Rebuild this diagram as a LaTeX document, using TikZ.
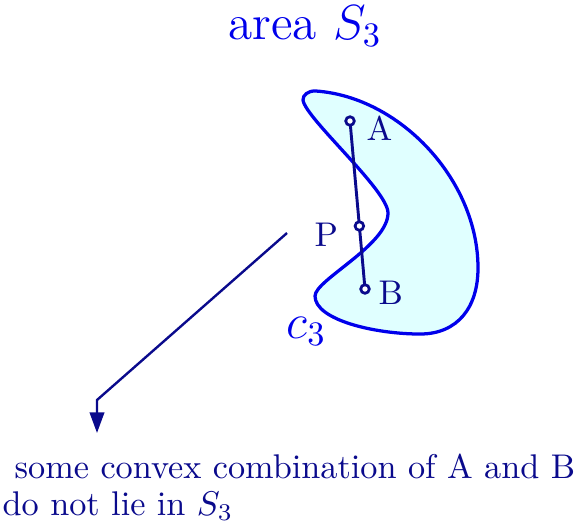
\documentclass[tikz,border=0pt]{standalone}
\usetikzlibrary{arrows.meta,calc}
\definecolor{navy}{RGB}{10,10,140}
\definecolor{regionfill}{RGB}{224,255,255}
\definecolor{outline}{RGB}{0,0,235}
\begin{document}
\begin{tikzpicture}[x=0.01025cm,y=-0.01025cm,
  pt/.style={circle,draw=navy,fill=white,line width=0.8pt,inner sep=0pt,minimum size=2.5pt},
  lbl/.style={text=navy,anchor=base west,inner sep=0pt},
  conn/.style={navy,line width=0.7pt}]
\useasboundingbox (0,0) rectangle (580,526);
\node[text=outline,anchor=base,inner sep=0pt,font=\Large] (title) at (305,39) {area $S_3$};
\draw[outline,fill=regionfill,line width=0.95pt]
  (316,91) .. controls (400,97) and (478,180) .. (478,268)
  .. controls (478,307) and (458,334) .. (420,334)
  .. controls (375,334) and (315,320) .. (315,296)
  .. controls (315,280) and (388,245) .. (388,213)
  .. controls (388,190) and (305,118) .. (303,100)
  .. controls (302.5,95.5) and (308,90.4) .. (316,91) -- cycle;
\coordinate (a) at (350,121);
\coordinate (b) at (365,289);
\draw[conn,line width=0.85pt] (a) -- (b);
\node[pt] (A) at (a) {};
\node[pt] (B) at (b) {};
\node[pt] (P) at ($(a)!0.625!(b)$) {};
\node[lbl] (la) at (366,140) {A};
\node[lbl] (lb) at (378,304) {B};
\node[lbl] (lp) at (314,246) {P};
\node[text=outline,anchor=base west,inner sep=0pt,font=\Large] (c3) at (286,338) {$c_3$};
\coordinate (s) at (287,233);
\coordinate (k) at (97,400);
\coordinate (t) at (97,433);
\draw[conn,-{Triangle[length=6pt,width=4.2pt]}] (s) -- (k) -- (t);
\node[lbl] (l1) at (14,478) {some convex combination of A and B};
\node[lbl] (l2) at (2,515) {do not lie in $S_3$};
\end{tikzpicture}
\end{document}
